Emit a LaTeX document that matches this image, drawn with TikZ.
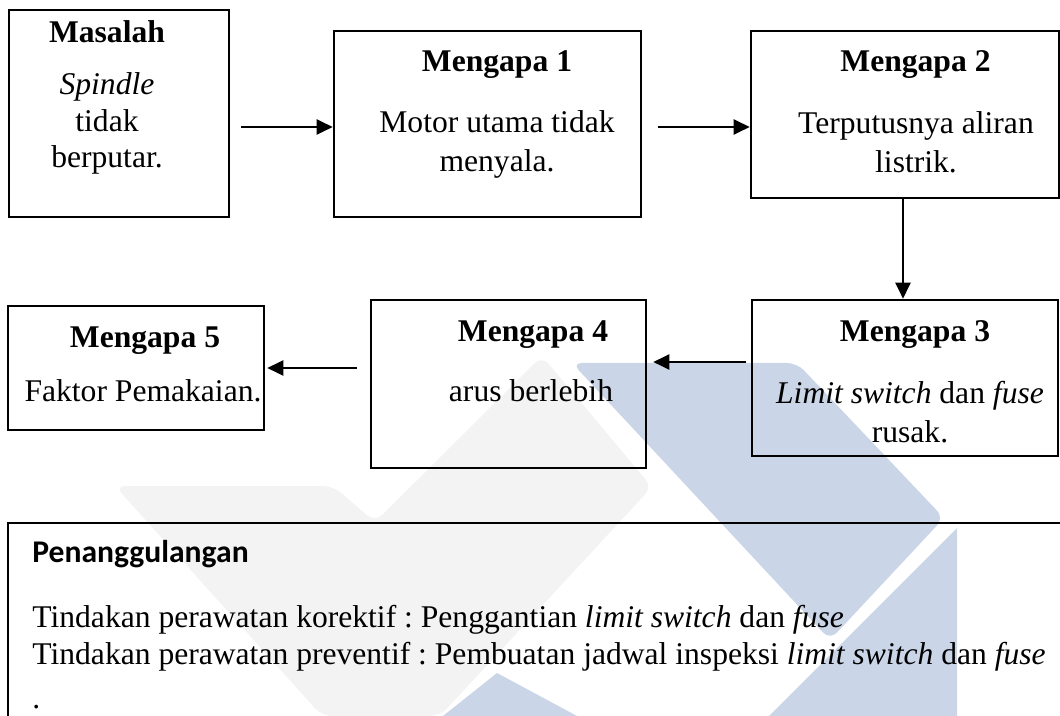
\documentclass[tikz,border=0pt]{standalone}
\usepackage{fontspec}
\setmainfont{Liberation Serif}
\newfontfamily\calibri{Carlito}
\usetikzlibrary{arrows.meta}
\definecolor{wmblue}{HTML}{CBD5E8}
\definecolor{wmgrey}{HTML}{F3F3F3}
\newcommand\ukuran{\fontsize{15.8}{19.8}\selectfont}
\frenchspacing

\begin{document}
\begin{tikzpicture}[x=0.5pt, y=-0.5pt,
	kotak/.style={draw, line width=1.3pt, inner sep=0pt},
	judul/.style={font=\ukuran\bfseries, anchor=base, inner sep=0pt},
	isi/.style={font=\ukuran, anchor=base, align=center, inner sep=0pt},
	catatan/.style={font=\ukuran, anchor=base west, inner sep=0pt},
	panah/.style={-{Triangle[length=8pt,width=7.5pt]}, line width=1.1pt}]
	\useasboundingbox (0,0) rectangle (1060,716);
	\clip (0,0) rectangle (1060,716);
	% watermark in the background
	\fill[wmgrey, rounded corners=5pt] (115,486) -- (333,486) -- (375,522) -- (542,356) -- (652,487) -- (440,716) -- (322,716) -- cycle;
	\fill[wmblue, rounded corners=5pt] (572,363) -- (797,363) -- (944,518) -- (830,640) -- cycle;
	\fill[wmblue] (957,528) -- (957,716) -- (769,716) -- cycle;
	\fill[wmblue] (443,716) -- (497,673) -- (577,716) -- cycle;
	% top row
	\node[kotak, minimum width=110pt, minimum height=103.5pt] (masalah) at (119,113.5) {};
	\node[judul] (jmasalah) at (107,43) {Masalah};
	\node[isi, font=\fontsize{15.8}{18.3}\selectfont] (imasalah) at (107,168) {\textit{Spindle}\\tidak\\berputar.};
	\node[kotak, minimum width=153.5pt, minimum height=93pt] (why1) at (487.5,124) {};
	\node[judul] (jwhy1) at (497,72) {Mengapa 1};
	\node[isi] (iwhy1) at (497,172) {Motor utama tidak\\menyala.};
	\node[kotak, minimum width=154pt, minimum height=83.5pt] (why2) at (905,114.5) {};
	\node[judul] (jwhy2) at (915.5,72) {Mengapa 2};
	\node[isi] (iwhy2) at (916,173) {Terputusnya aliran\\listrik.};
	% bottom row
	\node[kotak, minimum width=153pt, minimum height=78pt] (why3) at (905,378) {};
	\node[judul] (jwhy3) at (915,342) {Mengapa 3};
	\node[isi] (iwhy3) at (910,443) {\textit{Limit switch} dan \textit{fuse}\\rusak.};
	\node[kotak, minimum width=137.5pt, minimum height=84pt] (why4) at (508.5,384) {};
	\node[judul] (jwhy4) at (533,342) {Mengapa 4};
	\node[isi] (iwhy4) at (531,402) {arus berlebih};
	\node[kotak, minimum width=128pt, minimum height=62pt] (why5) at (136,368) {};
	\node[judul] (jwhy5) at (145,348) {Mengapa 5};
	\node[isi] (iwhy5) at (143,401) {Faktor Pemakaian.};
	% countermeasures
	\node[kotak, line width=1.4pt, minimum width=533.5pt, minimum height=108.5pt] (tindakan) at (541.5,631.5) {};
	\node[catatan, font=\ukuran\calibri\bfseries] (jtindakan) at (32,562) {Penanggulangan};
	\node[catatan] (korektif) at (32,627) {Tindakan perawatan korektif : Penggantian \textit{limit switch} dan \textit{fuse}};
	\node[catatan] (preventif) at (32,664) {Tindakan perawatan preventif : Pembuatan jadwal inspeksi \textit{limit switch} dan \textit{fuse}};
	\node[catatan] (titik) at (32,708) {.};
	% arrows
	\coordinate (ya) at (0,127);
	\coordinate (yb) at (0,362);
	\coordinate (yc) at (0,368);
	\draw[panah, shorten <=5.5pt] (masalah.east |- ya) -- (why1.west |- ya);
	\draw[panah, shorten <=8pt] (why1.east |- ya) -- (why2.west |- ya);
	\draw[panah] ([xshift=-1pt]why2.south) -- ([xshift=-1pt]why3.north);
	\draw[panah, shorten <=2.5pt, shorten >=3pt] (why3.west |- yb) -- (why4.east |- yb);
	\draw[panah, shorten <=6.5pt, shorten >=1pt] (why4.west |- yc) -- (why5.east |- yc);
\end{tikzpicture}
\end{document}
